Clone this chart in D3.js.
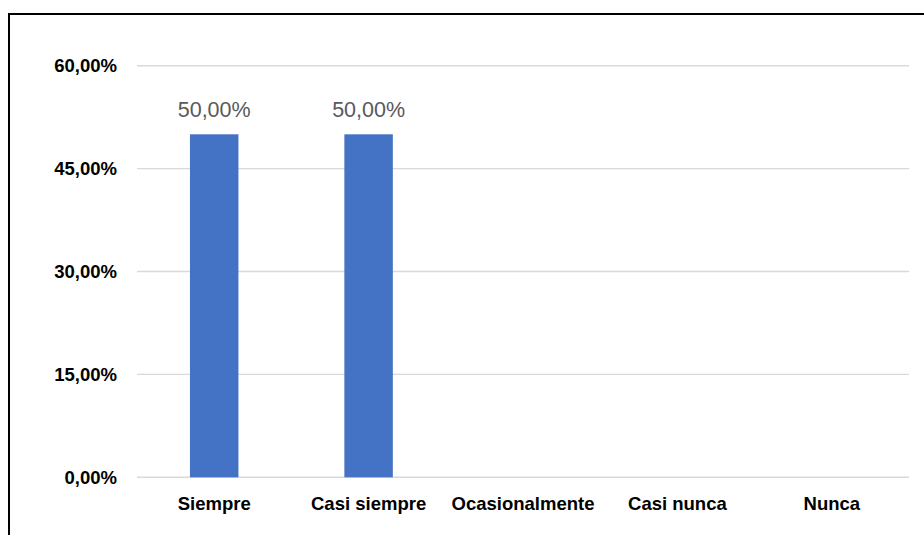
<!DOCTYPE html>
<html>
<head>
<meta charset="utf-8">
<script src="https://cdn.jsdelivr.net/npm/d3@7"></script>
<style>
  html, body { margin: 0; padding: 0; background: #fff; }
  svg { display: block; }
</style>
</head>
<body>
<svg id="chart" width="924" height="535"></svg>
<script>
// Survey answer categories and their share of responses (percent)
const categories = ["Siempre", "Casi siempre", "Ocasionalmente", "Casi nunca", "Nunca"];
const values = [50, 50, 0, 0, 0];
const yTicks = [0, 15, 30, 45, 60];

const fmt = v => d3.format(".2f")(v).replace(".", ",") + "%";

const svg = d3.select("#chart");
const W = 924, H = 535;
const margin = { left: 137, right: 15, top: 65.7, bottom: 57.7 };
const plotW = W - margin.left - margin.right;
const plotH = H - margin.top - margin.bottom;

const font = "'Liberation Sans', Arial, sans-serif";

// Outer frame (top and left edges visible)
svg.append("path")
  .attr("d", `M9,${H} V14 H${W}`)
  .attr("fill", "none")
  .attr("stroke", "#000")
  .attr("stroke-width", 2);

const g = svg.append("g").attr("transform", `translate(${margin.left},${margin.top})`);

const x = d3.scaleBand()
  .domain(categories)
  .range([0, plotW])
  .paddingInner(0.686)
  .paddingOuter(0.343);

const y = d3.scaleLinear().domain([0, 60]).range([plotH, 0]);

// Horizontal gridlines
g.append("g")
  .selectAll("line")
  .data(yTicks)
  .join("line")
  .attr("x1", 0)
  .attr("x2", plotW)
  .attr("y1", d => y(d))
  .attr("y2", d => y(d))
  .attr("stroke", "#d9d9d9")
  .attr("stroke-width", 1.4);

// Y axis labels
const yAxis = d3.axisLeft(y).tickValues(yTicks).tickFormat(fmt).tickSize(0).tickPadding(20);
g.append("g").call(yAxis)
  .call(a => a.select(".domain").remove())
  .call(a => a.selectAll("text")
    .attr("font-family", font)
    .attr("font-weight", "bold")
    .attr("font-size", 18.5)
    .attr("fill", "#000"));

// X axis labels
const xAxis = d3.axisBottom(x).tickSize(0).tickPadding(20);
g.append("g").attr("transform", `translate(0,${plotH})`).call(xAxis)
  .call(a => a.select(".domain").remove())
  .call(a => a.selectAll("text")
    .attr("font-family", font)
    .attr("font-weight", "bold")
    .attr("font-size", 18.5)
    .attr("fill", "#000"));

// Bars
g.append("g")
  .selectAll("rect")
  .data(values)
  .join("rect")
  .attr("x", (d, i) => x(categories[i]))
  .attr("width", x.bandwidth())
  .attr("y", d => y(d))
  .attr("height", d => plotH - y(d))
  .attr("fill", "#4472C4");

// Value labels above non-empty bars
g.append("g")
  .selectAll("text")
  .data(values.map((v, i) => ({ v, c: categories[i] })).filter(d => d.v > 0))
  .join("text")
  .attr("x", d => x(d.c) + x.bandwidth() / 2)
  .attr("y", d => y(d.v) - 17)
  .attr("text-anchor", "middle")
  .attr("font-family", font)
  .attr("font-size", 21.5)
  .attr("fill", "#595959")
  .text(d => fmt(d.v));
</script>
</body>
</html>
